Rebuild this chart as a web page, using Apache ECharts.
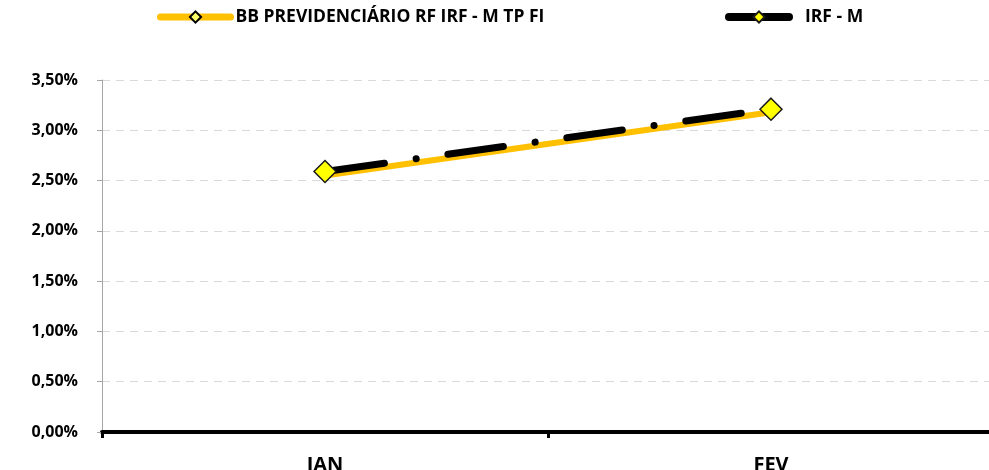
<!DOCTYPE html>
<html>
<head>
<meta charset="utf-8">
<script src="https://cdn.jsdelivr.net/npm/echarts@6/dist/echarts.min.js"></script>
<style>
  html, body { margin: 0; padding: 0; background: #fff; }
  #chart { width: 989px; height: 470px; }
</style>
</head>
<body>
<div id="chart"></div>
<script>
const months = ['JAN', 'FEV']
const fundName = 'BB PREVIDENCIÁRIO RF IRF - M TP FI'
const indexName = 'IRF - M'
const fundValues = [2.55, 3.18]
const indexValues = [2.59, 3.21]
const yTicks = [0, 0.5, 1, 1.5, 2, 2.5, 3, 3.5]

const font = '"Open Sans", "Noto Sans", sans-serif'
const pct = (v) => v.toFixed(2).replace('.', ',') + '%'

const legendText = { fontFamily: font, fontWeight: 'bold', fontSize: 17.5, color: '#000' }

const chart = echarts.init(document.getElementById('chart'))

chart.setOption({
  animation: false,
  grid: {
    left: 102,
    right: -5,
    top: 80,
    bottom: 38,
    outerBoundsMode: 'none',
  },
  legend: [
    {
      data: [fundName],
      left: 152,
      top: 3,
      itemWidth: 70,
      itemHeight: 14,
      lineStyle: { width: 7, cap: 'round' },
      textStyle: legendText,
    },
    {
      data: [indexName],
      left: 720,
      top: 3,
      itemWidth: 60,
      itemHeight: 14,
      lineStyle: { width: 8, cap: 'round', type: 'solid' },
      textStyle: Object.assign({ padding: [0, 0, 0, 11] }, legendText),
    },
  ],
  xAxis: {
    type: 'category',
    data: months,
    boundaryGap: true,
    axisLine: { lineStyle: { color: '#000', width: 4 } },
    axisTick: { show: true, length: 6, lineStyle: { color: '#000', width: 3 } },
    axisLabel: {
      margin: 23,
      color: '#000',
      fontFamily: font,
      fontWeight: 'bold',
      fontSize: 20,
    },
  },
  yAxis: {
    type: 'value',
    min: 0,
    max: yTicks[yTicks.length - 1],
    interval: 0.5,
    axisLine: { show: true, lineStyle: { color: '#a6a6a6', width: 1 } },
    axisTick: { show: true, length: 5, lineStyle: { color: '#a6a6a6' } },
    axisLabel: {
      margin: 24,
      color: '#000',
      fontFamily: font,
      fontWeight: 'bold',
      fontSize: 16,
      formatter: pct,
    },
    splitLine: {
      lineStyle: { color: '#d9d9d9', type: [8, 6], width: 1 },
    },
  },
  series: [
    {
      name: fundName,
      type: 'line',
      data: fundValues,
      symbol: 'diamond',
      symbolSize: 9,
      itemStyle: { color: '#ffff66', borderColor: '#000', borderWidth: 1.5 },
      lineStyle: { color: '#ffc000', width: 6 },
      z: 2,
    },
    {
      name: indexName,
      type: 'line',
      data: indexValues,
      symbol: 'diamond',
      symbolSize: 22,
      itemStyle: { color: '#ffff00', borderColor: '#1a1a1a', borderWidth: 1.5 },
      lineStyle: {
        color: '#000',
        width: 7,
        type: [56, 32, 0.1, 32],
        dashOffset: -4,
        cap: 'round',
      },
      z: 3,
    },
  ],
})
</script>
</body>
</html>
